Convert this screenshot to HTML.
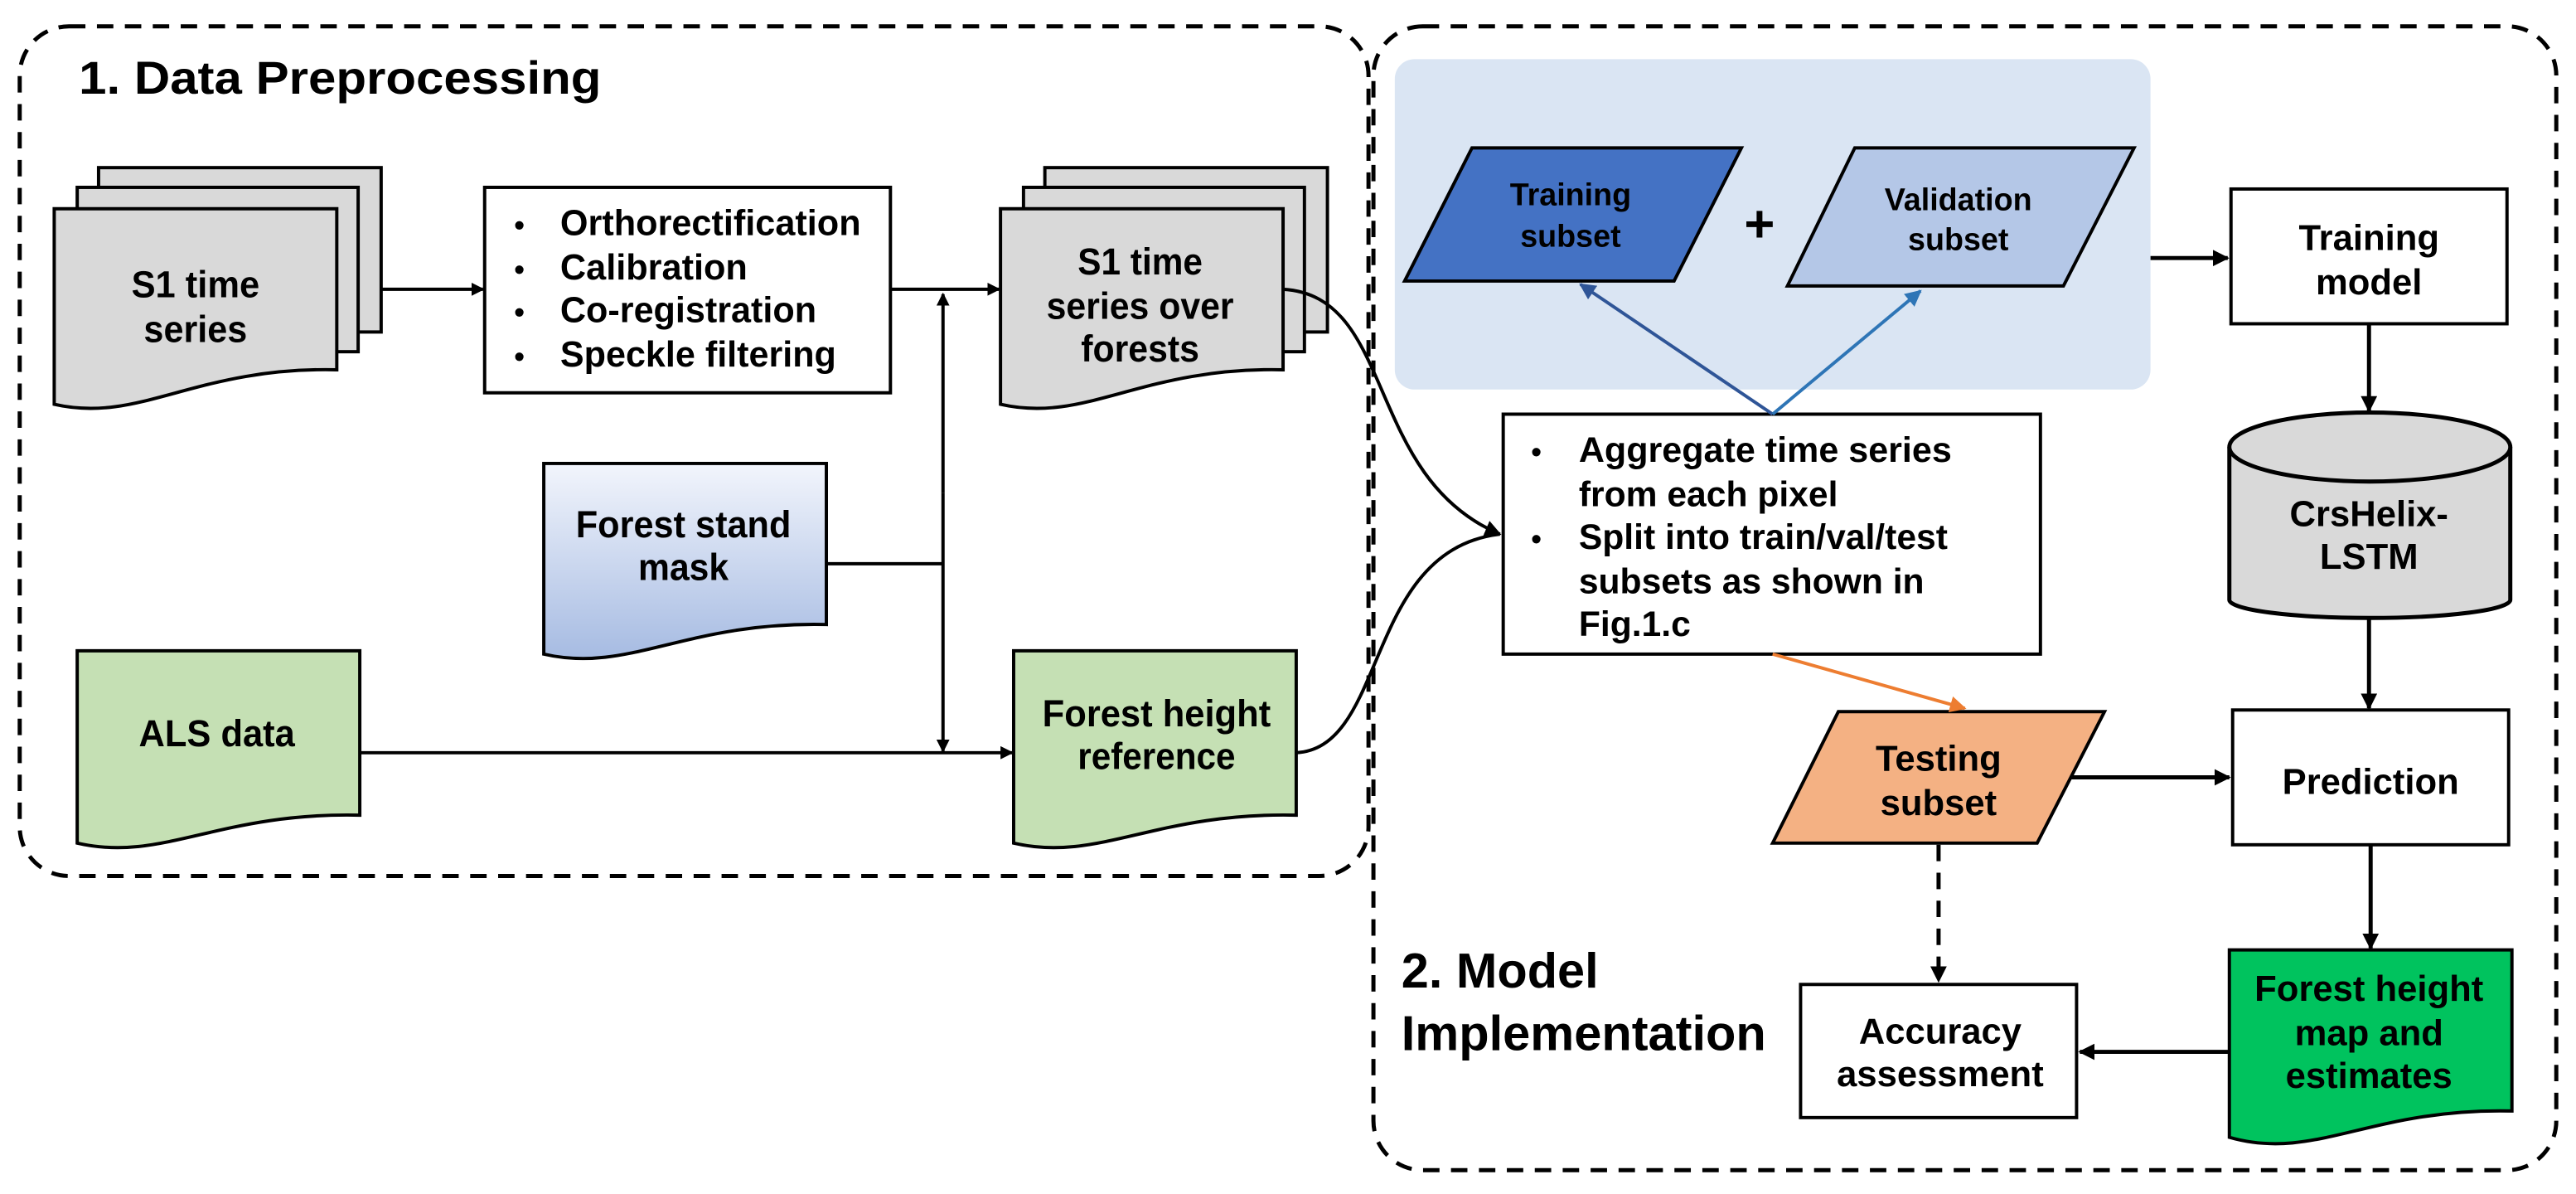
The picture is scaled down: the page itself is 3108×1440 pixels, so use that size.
<!DOCTYPE html>
<html><head><meta charset="utf-8"><style>
html,body{margin:0;padding:0;background:#fff;}
svg{display:block;}
text{font-family:"Liberation Sans",Arial,sans-serif;font-weight:bold;fill:#000;}
</style></head><body>
<svg width="3108" height="1440" viewBox="0 0 1568 726.5" preserveAspectRatio="none" xmlns="http://www.w3.org/2000/svg">
<defs>
<marker id="ab" markerWidth="8" markerHeight="8" refX="7" refY="4" orient="auto" markerUnits="userSpaceOnUse" viewBox="0 0 8 8"><path d="M0,0 L8,4 L0,8 z" fill="#000"/></marker>
<marker id="ab2" markerWidth="10" markerHeight="10" refX="9" refY="5" orient="auto" markerUnits="userSpaceOnUse" viewBox="0 0 10 10"><path d="M0,0 L10,5 L0,10 z" fill="#000"/></marker>
<marker id="mdb" markerWidth="10" markerHeight="10" refX="9" refY="5" orient="auto" markerUnits="userSpaceOnUse" viewBox="0 0 10 10"><path d="M0,0 L10,5 L0,10 z" fill="#2f5597"/></marker>
<marker id="mlb" markerWidth="10" markerHeight="10" refX="9" refY="5" orient="auto" markerUnits="userSpaceOnUse" viewBox="0 0 10 10"><path d="M0,0 L10,5 L0,10 z" fill="#2e75b6"/></marker>
<marker id="mor" markerWidth="10" markerHeight="10" refX="9" refY="5" orient="auto" markerUnits="userSpaceOnUse" viewBox="0 0 10 10"><path d="M0,0 L10,5 L0,10 z" fill="#ed7d31"/></marker>
<linearGradient id="gm" x1="0" y1="0" x2="0" y2="1"><stop offset="0" stop-color="#f2f5fc"/><stop offset="1" stop-color="#a6bbe2"/></linearGradient>
</defs>

<rect x="12" y="16" width="821" height="517" rx="30" fill="none" stroke="#000" stroke-width="2.5" stroke-dasharray="10,7"/>
<rect x="836" y="16" width="720" height="696" rx="30" fill="none" stroke="#000" stroke-width="2.5" stroke-dasharray="10,7"/>

<text x="48" y="57" font-size="28" textLength="318" lengthAdjust="spacingAndGlyphs">1. Data Preprocessing</text>

<g stroke="#000" stroke-width="2" fill="#d9d9d9">
<rect x="60" y="102" width="172" height="100"/>
<rect x="47" y="114" width="171" height="100"/>
<path d="M33,127 H205 V225 C119,223 85,258 33,246 Z"/>
<rect x="636" y="102" width="172" height="100"/>
<rect x="623" y="114" width="171" height="100"/>
<path d="M609,127 H781 V225 C695,223 661,258 609,246 Z"/>
</g>
<g font-size="23" text-anchor="middle" lengthAdjust="spacingAndGlyphs">
<text x="119" y="181" textLength="78" lengthAdjust="spacingAndGlyphs">S1 time</text>
<text x="119" y="208" textLength="63" lengthAdjust="spacingAndGlyphs">series</text>
<text x="694" y="167" textLength="76" lengthAdjust="spacingAndGlyphs">S1 time</text>
<text x="694" y="194" textLength="114" lengthAdjust="spacingAndGlyphs">series over</text>
<text x="694" y="220" textLength="72" lengthAdjust="spacingAndGlyphs">forests</text>
<text x="416" y="327" textLength="131" lengthAdjust="spacingAndGlyphs">Forest stand</text>
<text x="416" y="353" textLength="55" lengthAdjust="spacingAndGlyphs">mask</text>
<text x="132" y="454" textLength="95" lengthAdjust="spacingAndGlyphs">ALS data</text>
<text x="704" y="442" textLength="139" lengthAdjust="spacingAndGlyphs">Forest height</text>
<text x="704" y="468" textLength="96" lengthAdjust="spacingAndGlyphs">reference</text>
</g>

<rect x="295" y="114" width="247" height="125" fill="#fff" stroke="#000" stroke-width="2"/>
<g font-size="22">
<text x="313" y="143" font-size="18">•</text><text x="341" y="143" textLength="183" lengthAdjust="spacingAndGlyphs">Orthorectification</text>
<text x="313" y="170" font-size="18">•</text><text x="341" y="170" textLength="114" lengthAdjust="spacingAndGlyphs">Calibration</text>
<text x="313" y="196" font-size="18">•</text><text x="341" y="196" textLength="156" lengthAdjust="spacingAndGlyphs">Co-registration</text>
<text x="313" y="223" font-size="18">•</text><text x="341" y="223" textLength="168" lengthAdjust="spacingAndGlyphs">Speckle filtering</text>
</g>

<path d="M331,282 H503 V380 C417,378 383,410 331,398 Z" fill="url(#gm)" stroke="#000" stroke-width="2"/>
<path d="M47,396 H219 V496 C133,494 99,525 47,513 Z" fill="#c5e0b4" stroke="#000" stroke-width="2"/>
<path d="M617,396 H789 V496 C703,494 669,525 617,513 Z" fill="#c5e0b4" stroke="#000" stroke-width="2"/>
<g font-size="23" text-anchor="middle">
<text x="416" y="327" textLength="131" lengthAdjust="spacingAndGlyphs">Forest stand</text>
<text x="416" y="353" textLength="55" lengthAdjust="spacingAndGlyphs">mask</text>
<text x="132" y="454" textLength="95" lengthAdjust="spacingAndGlyphs">ALS data</text>
<text x="704" y="442" textLength="139" lengthAdjust="spacingAndGlyphs">Forest height</text>
<text x="704" y="468" textLength="96" lengthAdjust="spacingAndGlyphs">reference</text>
</g>

<g stroke="#000" stroke-width="2" fill="none">
<line x1="232" y1="176" x2="294" y2="176" marker-end="url(#ab)"/>
<line x1="542" y1="176" x2="608" y2="176" marker-end="url(#ab)"/>
<line x1="574" y1="300" x2="574" y2="179" marker-end="url(#ab)"/>
<line x1="574" y1="300" x2="574" y2="457" marker-end="url(#ab)"/>
<line x1="503" y1="343" x2="574" y2="343"/>
<line x1="219" y1="458" x2="616" y2="458" marker-end="url(#ab)"/>
<path d="M781,176 C850,180 830,290 913,325" marker-end="url(#ab2)"/>
<path d="M789,458 C845,455 830,335 913,325"/>
</g>

<rect x="849" y="36" width="460" height="201" rx="12" fill="#dae5f3"/>
<polygon points="896,90 1060,90 1019,171 855,171" fill="#4472c4" stroke="#000" stroke-width="2"/>
<text x="956" y="125" font-size="19" text-anchor="middle" fill="#111">Training</text>
<text x="956" y="150" font-size="19" text-anchor="middle" fill="#111">subset</text>
<text x="1071" y="147" font-size="32" text-anchor="middle">+</text>
<polygon points="1129,90 1299,90 1256,174 1088,174" fill="#b4c7e7" stroke="#000" stroke-width="2"/>
<text x="1192" y="128" font-size="19" text-anchor="middle">Validation</text>
<text x="1192" y="152" font-size="19" text-anchor="middle">subset</text>

<rect x="1358" y="115" width="168" height="82" fill="#fff" stroke="#000" stroke-width="2"/>
<text x="1442" y="152" font-size="22" text-anchor="middle">Training</text>
<text x="1442" y="179" font-size="22" text-anchor="middle">model</text>

<path d="M1357,272 V365 A85.5,11 0 0 0 1528,365 V272" fill="#d9d9d9" stroke="#000" stroke-width="2.5"/>
<ellipse cx="1442.5" cy="272" rx="85.5" ry="21" fill="#d9d9d9" stroke="#000" stroke-width="2.5"/>
<text x="1442" y="320" font-size="22" text-anchor="middle">CrsHelix-</text>
<text x="1442" y="346" font-size="22" text-anchor="middle">LSTM</text>

<rect x="1359" y="432" width="168" height="82" fill="#fff" stroke="#000" stroke-width="2"/>
<text x="1443" y="483" font-size="22" text-anchor="middle">Prediction</text>

<path d="M1357,578 H1529 V676 C1443,674 1409,707 1357,692 Z" fill="#00c35e" stroke="#000" stroke-width="2"/>
<text x="1442" y="609" font-size="22" text-anchor="middle">Forest height</text>
<text x="1442" y="636" font-size="22" text-anchor="middle">map and</text>
<text x="1442" y="662" font-size="22" text-anchor="middle">estimates</text>

<rect x="1096" y="599" width="168" height="81" fill="#fff" stroke="#000" stroke-width="2"/>
<text x="1181" y="635" font-size="22" text-anchor="middle">Accuracy</text>
<text x="1181" y="661" font-size="22" text-anchor="middle">assessment</text>

<polygon points="1119,433 1281,433 1240,513 1079,513" fill="#f4b183" stroke="#000" stroke-width="2"/>
<text x="1180" y="469" font-size="22" text-anchor="middle">Testing</text>
<text x="1180" y="496" font-size="22" text-anchor="middle">subset</text>

<rect x="915" y="252" width="327" height="146" fill="#fff" stroke="#000" stroke-width="2"/>
<g font-size="21.5">
<text x="932" y="281" font-size="18">•</text><text x="961" y="281" textLength="227" lengthAdjust="spacingAndGlyphs">Aggregate time series</text>
<text x="961" y="308">from each pixel</text>
<text x="932" y="334" font-size="18">•</text><text x="961" y="334">Split into train/val/test</text>
<text x="961" y="361">subsets as shown in</text>
<text x="961" y="387">Fig.1.c</text>
</g>

<text x="853" y="601" font-size="30">2. Model</text>
<text x="853" y="639" font-size="30" textLength="222" lengthAdjust="spacingAndGlyphs">Implementation</text>

<g stroke-width="2" fill="none">
<line x1="1079" y1="252" x2="962" y2="173" stroke="#2f5597" marker-end="url(#mdb)"/>
<line x1="1079" y1="252" x2="1169" y2="177" stroke="#2e75b6" marker-end="url(#mlb)"/>
<line x1="1079" y1="398" x2="1196" y2="431" stroke="#ed7d31" marker-end="url(#mor)"/>
<g stroke="#000" stroke-width="2.5">
<line x1="1309" y1="157" x2="1356" y2="157" marker-end="url(#ab2)"/>
<line x1="1442" y1="197" x2="1442" y2="250" marker-end="url(#ab2)"/>
<line x1="1442" y1="376" x2="1442" y2="431" marker-end="url(#ab2)"/>
<line x1="1443" y1="514" x2="1443" y2="577" marker-end="url(#ab2)"/>
<line x1="1261" y1="473" x2="1357" y2="473" marker-end="url(#ab2)"/>
<line x1="1357" y1="640" x2="1266" y2="640" marker-end="url(#ab2)"/>
<line x1="1180" y1="514" x2="1180" y2="597" stroke-dasharray="10,7" marker-end="url(#ab2)"/>
</g>
</g>
</svg>
</body></html>
